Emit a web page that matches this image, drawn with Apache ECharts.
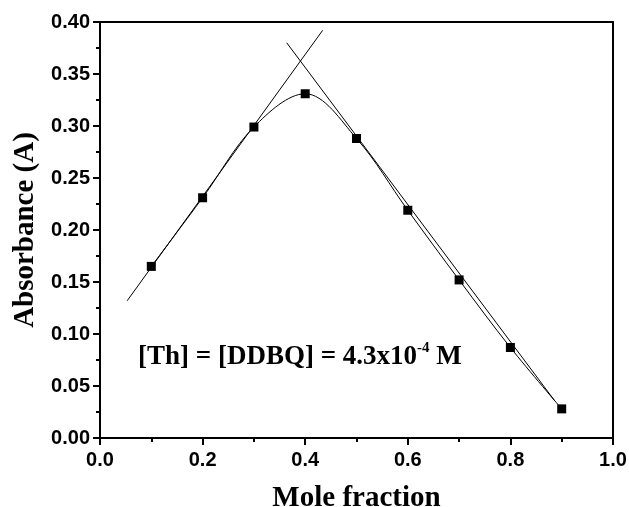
<!DOCTYPE html>
<html>
<head>
<meta charset="utf-8">
<title>Job plot</title>
<script src="https://cdn.jsdelivr.net/npm/echarts@6/dist/echarts.min.js"></script>
<style>
  html, body { margin: 0; padding: 0; background: #fff; }
  #main { width: 629px; height: 507px; }
</style>
</head>
<body>
<div id="main"></div>
<script type="text/javascript">
    // measured points (mole fraction, absorbance)
    var moleFraction = [0.1, 0.2, 0.3, 0.4, 0.5, 0.6, 0.7, 0.8, 0.9];
    var absorbance = [0.165, 0.231, 0.299, 0.331, 0.288, 0.219, 0.152, 0.087, 0.028];
    // the two straight tangent lines, end points
    var riseLine = [[0.053, 0.132], [0.434, 0.392]];
    var fallLine = [[0.364, 0.380], [0.886, 0.036]];
    var xTicks = [0, 0.2, 0.4, 0.6, 0.8, 1.0];
    var yTicks = [0, 0.05, 0.1, 0.15, 0.2, 0.25, 0.3, 0.35, 0.4];

    var pts = moleFraction.map(function (x, i) { return [x, absorbance[i]]; });

    var myChart = echarts.init(document.getElementById('main'));
    var tickFont = { fontFamily: 'Liberation Sans, Arial', fontWeight: 'bold', fontSize: 20, color: '#000' };
    var nameFont = { fontFamily: 'Liberation Serif, Times New Roman', fontWeight: 'bold', fontSize: 29, color: '#000' };

    var option = {
        animation: false,
        backgroundColor: '#fff',
        grid: { left: 100, right: 16, top: 22, bottom: 69, containLabel: false, outerBoundsMode: 'none' },
        xAxis: [
            {
                type: 'value',
                min: xTicks[0], max: xTicks[xTicks.length - 1], interval: 0.2,
                name: 'Mole fraction', nameLocation: 'middle', nameGap: 46,
                nameTextStyle: nameFont,
                axisLine: { lineStyle: { color: '#000', width: 2 } },
                axisTick: { inside: false, length: 7, lineStyle: { color: '#000', width: 2 } },
                minorTick: { show: true, splitNumber: 2, length: 4, lineStyle: { color: '#000', width: 2 } },
                axisLabel: Object.assign({ margin: 12, formatter: function (v) { return v.toFixed(1); } }, tickFont),
                splitLine: { show: false }
            },
            {
                type: 'value', position: 'top', min: 0, max: 1,
                axisLine: { show: true, onZero: false, lineStyle: { color: '#000', width: 2 } },
                axisTick: { show: false }, axisLabel: { show: false }, splitLine: { show: false }
            }
        ],
        yAxis: [
            {
                type: 'value',
                min: yTicks[0], max: yTicks[yTicks.length - 1], interval: 0.05,
                name: 'Absorbance (A)', nameLocation: 'middle', nameGap: 60,
                nameTextStyle: nameFont,
                axisLine: { lineStyle: { color: '#000', width: 2 } },
                axisTick: { inside: false, length: 7, lineStyle: { color: '#000', width: 2 } },
                minorTick: { show: true, splitNumber: 2, length: 4, lineStyle: { color: '#000', width: 2 } },
                axisLabel: Object.assign({ margin: 10, formatter: function (v) { return v.toFixed(2); } }, tickFont),
                splitLine: { show: false }
            },
            {
                type: 'value', position: 'right', min: 0, max: 0.4,
                axisLine: { show: true, onZero: false, lineStyle: { color: '#000', width: 2 } },
                axisTick: { show: false }, axisLabel: { show: false }, splitLine: { show: false }
            }
        ],
        graphic: [
            {
                type: 'text', left: 138, top: 341,
                style: {
                    text: '{a|[Th] = [DDBQ] = 4.3x10}{s|-4}{a| M}',
                    rich: {
                        a: { fontFamily: 'Liberation Serif, Times New Roman', fontWeight: 'bold', fontSize: 27, fill: '#000', verticalAlign: 'bottom', lineHeight: 30 },
                        s: { fontFamily: 'Liberation Serif, Times New Roman', fontWeight: 'bold', fontSize: 15, fill: '#000', verticalAlign: 'top', lineHeight: 30 }
                    }
                }
            }
        ],
        series: [
            {
                type: 'line', data: riseLine, showSymbol: false, symbol: 'none',
                lineStyle: { color: '#000', width: 1 }, z: 2
            },
            {
                type: 'line', data: fallLine, showSymbol: false, symbol: 'none',
                lineStyle: { color: '#000', width: 1 }, z: 2
            },
            {
                type: 'line', data: pts, smooth: 0.35,
                symbol: 'rect', symbolSize: 9,
                itemStyle: { color: '#000' },
                lineStyle: { color: '#000', width: 1 }, z: 3
            }
        ]
    };
    myChart.setOption(option);
</script>
</body>
</html>
